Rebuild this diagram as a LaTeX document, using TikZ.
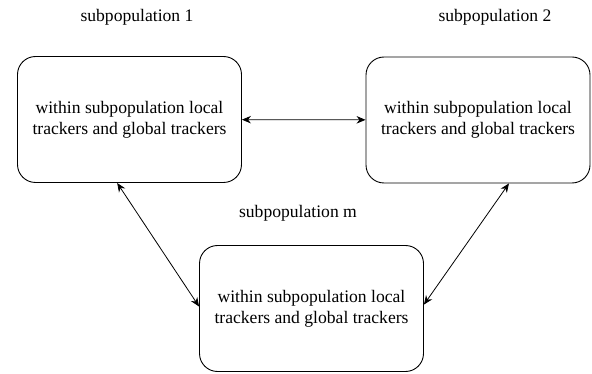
\documentclass[tikz,border=0pt]{standalone}
\usepackage{fontspec}
\setmainfont{Liberation Serif}
\usetikzlibrary{arrows.meta}
\begin{document}
\begin{tikzpicture}[x=1pt, y=-1pt, every node/.style={font=\fontsize{17.6}{21}\selectfont}, >={Stealth[length=9pt,width=7.5pt]}]
  \useasboundingbox (0,0) rectangle (592,374);
  \tikzset{subbox/.style={draw, line width=0.9pt, rounded corners=18pt, minimum width=224pt, minimum height=126pt, align=center, inner sep=2pt}}
  \node[subbox] (b1) at (129.5,119.5) {within subpopulation local\\trackers and global trackers};
  \node[subbox] (b2) at (478,120) {within subpopulation local\\trackers and global trackers};
  \node[subbox] (b3) at (311.5,308.5) {within subpopulation local\\trackers and global trackers};
  \node (l1) at (137,17) {subpopulation 1};
  \node (l2) at (495,17) {subpopulation 2};
  \node (lm) at (298,213) {subpopulation m};
  \draw[<->, line width=0.8pt] (b1) -- (b2);
  \draw[<->, line width=0.8pt] (b1.259) -- (b3.179);
  \draw[<->, line width=0.8pt] (b2.296) -- (b3.2);
\end{tikzpicture}
\end{document}
